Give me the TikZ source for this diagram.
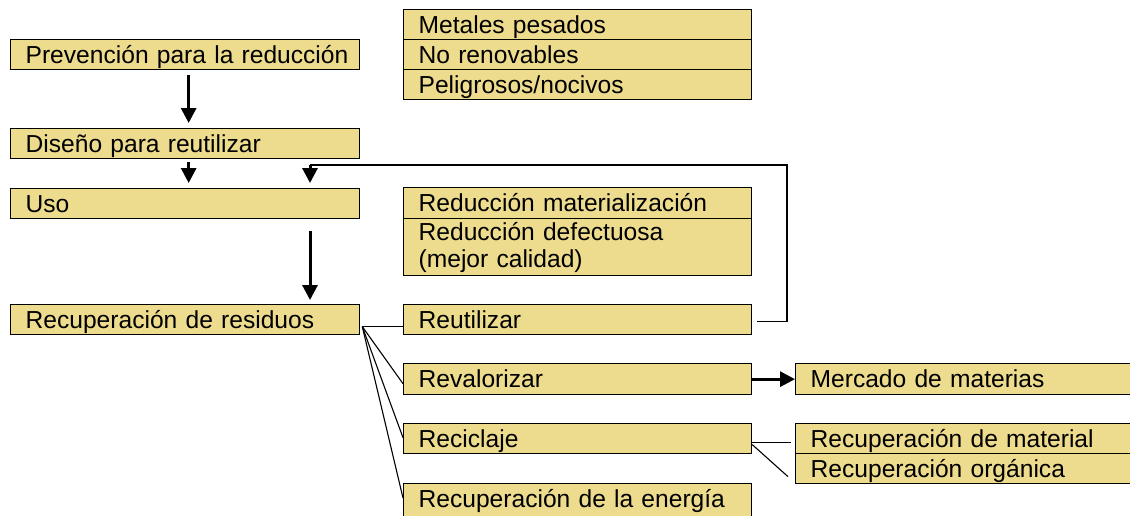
\documentclass[tikz,border=0pt]{standalone}
\usepackage{fontspec}
\setmainfont{Liberation Sans}
\usetikzlibrary{arrows.meta,calc}
\definecolor{boxfill}{RGB}{238,220,142}
\begin{document}
\begin{tikzpicture}[x=1pt,y=-1pt,
  cell/.style={draw=black, fill=boxfill, line width=1.3pt, anchor=north west,
    inner xsep=0pt, inner ysep=0pt, text height=24pt, text depth=6pt,
    align=left, font=\fontsize{24.6}{27}\selectfont},
  link/.style={draw=black, line width=1.1pt},
  bigarrow/.style={line width=3pt, -{Triangle[length=15pt,width=15pt]}}
]
\useasboundingbox (0,0) rectangle (1130,515);
\clip (0,0) rectangle (1130,515);

% left column
\node[cell, text width=349pt] (prev) at (10,39) {\hspace*{15pt}Prevención para la reducción};
\node[cell, text width=349pt] (dis) at (10,128) {\hspace*{15pt}Diseño para reutilizar};
\node[cell, text width=349pt] (uso) at (10,188) {\hspace*{15pt}Uso};
\node[cell, text width=349pt] (rec) at (10,304) {\hspace*{15pt}Recuperación de residuos};

% middle column
\node[cell, text width=348pt] (met) at (403,9) {\hspace*{15pt}Metales pesados};
\node[cell, text width=348pt] (ren) at (403,39) {\hspace*{15pt}No renovables};
\node[cell, text width=348pt] (pel) at (403,69) {\hspace*{15pt}Peligrosos/nocivos};

\node[cell, text width=348pt, text depth=7pt] (rmz) at (403,187) {\hspace*{15pt}Reducción materialización};
\node[cell, text width=348pt, text height=22pt, text depth=35pt] (rdf) at (403,218)
  {\hspace*{15pt}Reducción defectuosa\\\hspace*{15pt}(mejor calidad)};

\node[cell, text width=348pt] (reut) at (403,304) {\hspace*{15pt}Reutilizar};
\node[cell, text width=348pt, text depth=7pt] (reval) at (403,363) {\hspace*{15pt}Revalorizar};
\node[cell, text width=348pt] (recic) at (403,423) {\hspace*{15pt}Reciclaje};
\node[cell, text width=348pt, text depth=12pt] (energ) at (403,483) {\hspace*{15pt}Recuperación de la energía};

% right column
\node[cell, text width=350pt, text depth=7pt] (merc) at (795,363) {\hspace*{15pt}Mercado de materias};
\node[cell, text width=350pt] (rmat) at (795,423) {\hspace*{15pt}Recuperación de material};
\node[cell, text width=350pt] (rorg) at (795,453) {\hspace*{15pt}Recuperación orgánica};

% vertical arrows
\draw[bigarrow, shorten <=5pt, shorten >=5pt] ([xshift=3.5pt]prev.south) -- ([xshift=3.5pt]dis.north);
\draw[bigarrow, shorten <=3pt, shorten >=5pt] ([xshift=3.5pt]dis.south) -- ([xshift=3.5pt]uso.north);

% feedback from Reutilizar to Uso
\coordinate (fbr) at (787,165);
\coordinate (fbl) at (310,165);
\draw[link] ([xshift=5pt,yshift=-2pt]reut.east) -| (fbr) -- (fbl);
\draw[bigarrow, shorten >=5pt] (fbl) -- (fbl |- uso.north);

% Uso to Recuperacion
\draw[bigarrow, shorten <=12pt, shorten >=4pt] (uso.south -| fbl) -- (rec.north -| fbl);

% fan from Recuperacion de residuos
\coordinate (fan) at ([xshift=2pt,yshift=-7pt]rec.east);
\draw[link] (fan) -- ([yshift=-7pt]reut.west);
\draw[link] (fan) -- ([yshift=-4.5pt]reval.west);
\draw[link] (fan) -- ([yshift=1pt]recic.west);
\draw[link] (fan) -- ([yshift=-498pt+483pt]energ.north west);

% Revalorizar to Mercado
\draw[bigarrow] (reval.east) -- (merc.west);

% Reciclaje branches
\draw[link] ([yshift=-4pt]recic.east) -- ([xshift=-4pt,yshift=-4pt]rmat.west);
\draw[link] ([yshift=-6pt]recic.east) -- ([xshift=-7pt,yshift=-8pt]rorg.west);
\end{tikzpicture}
\end{document}
